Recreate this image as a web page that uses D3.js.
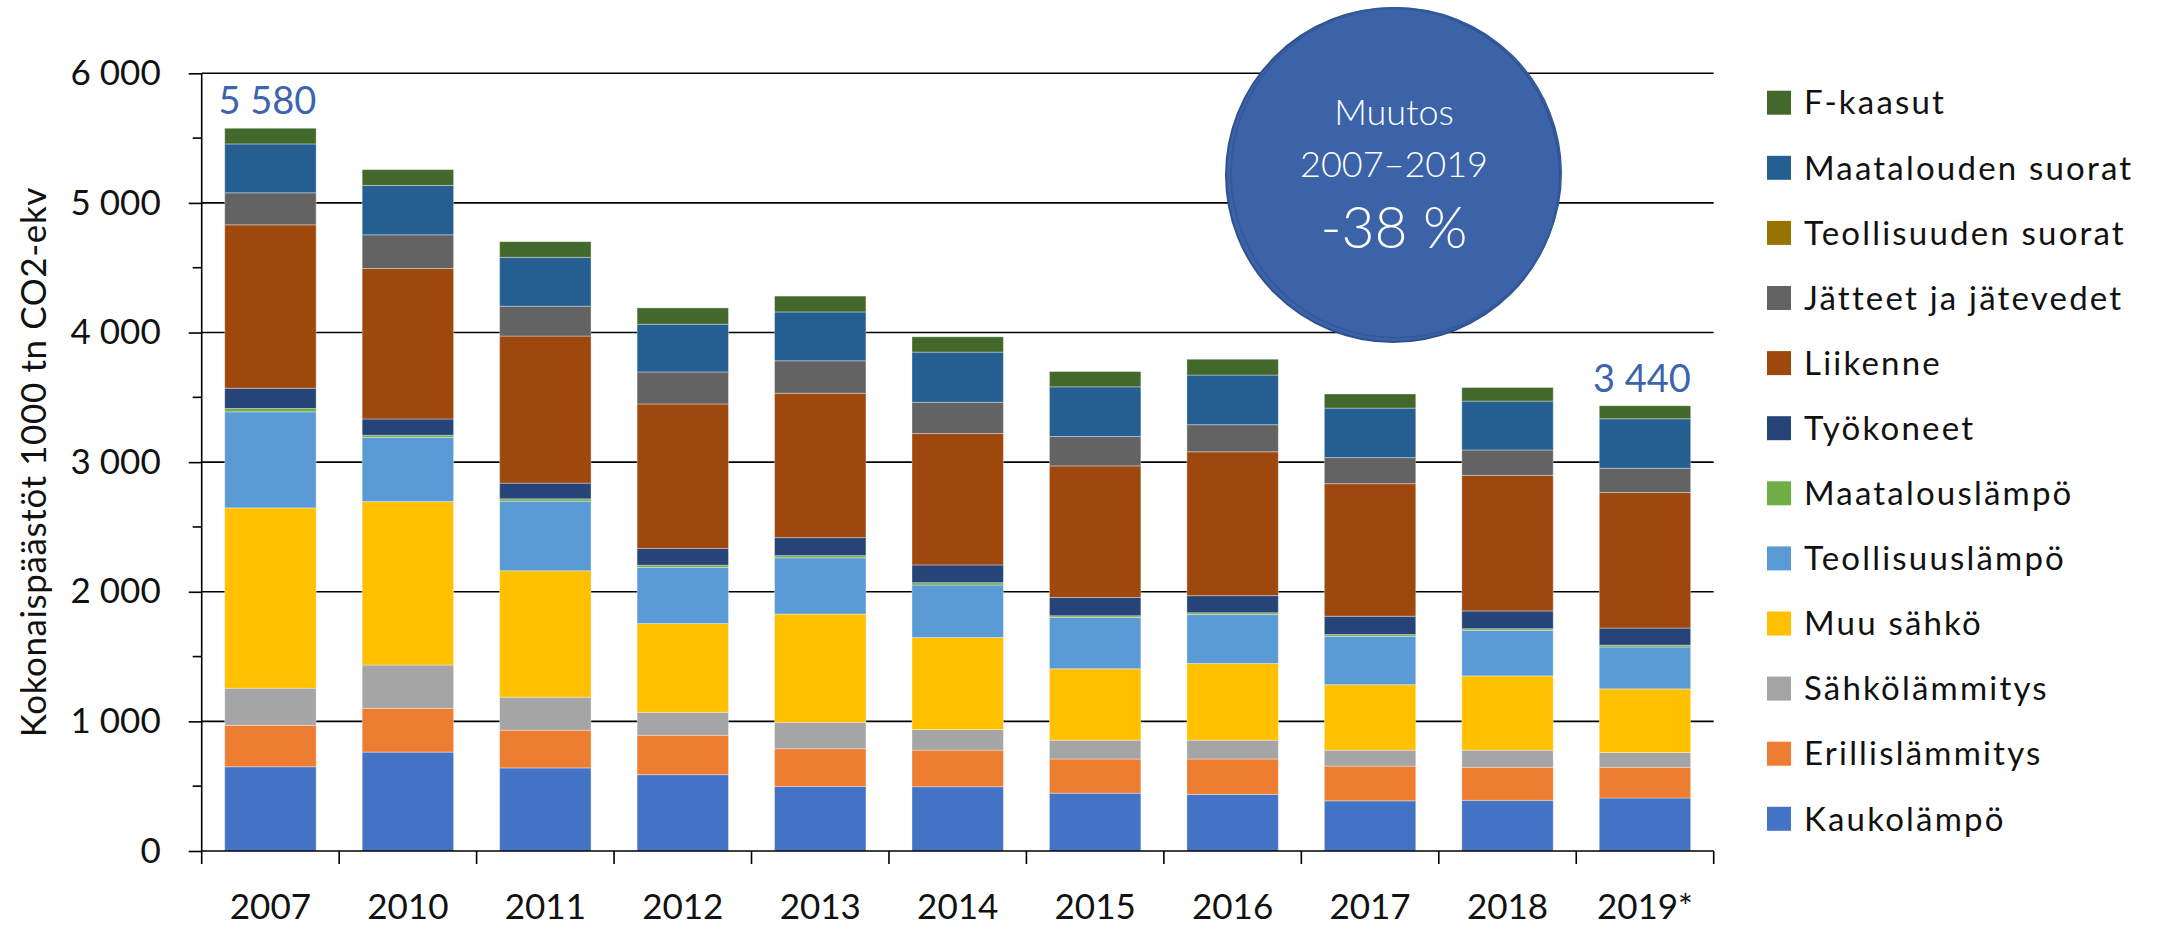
<!DOCTYPE html>
<html>
<head>
<meta charset="utf-8">
<script src="https://cdn.jsdelivr.net/npm/d3@7"></script>
<style>
  body { margin: 0; background: #fff; }
  svg { display: block; font-family: Lato, "Open Sans", sans-serif; font-weight: 400; }
</style>
</head>
<body>
<div id="chart"></div>
<script>
// categories and series (1000 t CO2-ekv), bottom of the stack first
var years = ["2007", "2010", "2011", "2012", "2013", "2014", "2015", "2016", "2017", "2018", "2019*"];
var kaukolampo       = [650, 763, 641, 589, 498, 496, 446, 437, 387, 391, 409];
var erillislammitys  = [320, 338, 291, 304, 291, 282, 264, 273, 268, 255, 237];
var sahkolammitys    = [286, 334, 255, 177, 203, 159, 145, 145, 123, 132, 114];
var muuSahko         = [1391, 1261, 975, 685, 836, 710, 551, 592, 505, 573, 491];
var teollisuuslampo  = [741, 494, 537, 433, 434, 405, 396, 377, 373, 351, 323];
var maatalouslampo   = [26, 17, 18, 17, 17, 18, 13, 14, 14, 13, 14];
var tyokoneet        = [156, 126, 121, 130, 139, 137, 141, 132, 141, 137, 132];
var liikenne         = [1261, 1161, 1135, 1114, 1113, 1014, 1015, 1110, 1023, 1046, 1046];
var jatteet          = [247, 260, 230, 247, 251, 241, 227, 209, 201, 196, 187];
var teollisuudenSuorat = [0, 0, 0, 0, 0, 0, 0, 0, 0, 0, 0];
var maataloudenSuorat  = [377, 381, 377, 368, 377, 387, 383, 383, 382, 377, 382];
var fKaasut          = [121, 122, 121, 126, 122, 118, 118, 122, 109, 105, 100];

var seriesNames = ["Kaukolämpö", "Erillislämmitys", "Sähkölämmitys", "Muu sähkö", "Teollisuuslämpö",
    "Maatalouslämpö", "Työkoneet", "Liikenne", "Jätteet ja jätevedet", "Teollisuuden suorat",
    "Maatalouden suorat", "F-kaasut"];
var seriesValues = [kaukolampo, erillislammitys, sahkolammitys, muuSahko, teollisuuslampo,
    maatalouslampo, tyokoneet, liikenne, jatteet, teollisuudenSuorat, maataloudenSuorat, fKaasut];
var seriesColors = ["#4472C4", "#ED7D31", "#A5A5A5", "#FFC000", "#5B9BD5", "#70AD47",
    "#264478", "#9E480E", "#636363", "#997300", "#255E91", "#43682B"];

var yTicks = [0, 1000, 2000, 3000, 4000, 5000, 6000];
var labelledYears = ["2007", "2019*"];
var bubbleLines = ["Muutos", "2007–2019", "-38 %"];
var yTitle = "Kokonaispäästöt 1000 tn CO2-ekv";

// svg size and plot area
var svgWidth = 2178, svgHeight = 925;
var plot = {left: 201.7, right: 1713.7, top: 73.3, bottom: 851};

var svg = d3.select("#chart").append("svg")
    .attr("width", svgWidth)
    .attr("height", svgHeight);

// build table rows for the stack
var rows = years.map(function(y, i) {
    var r = {year: y};
    seriesNames.forEach(function(n, s) { r[n] = seriesValues[s][i]; });
    return r;
});
var stacked = d3.stack().keys(seriesNames)(rows);

var x = d3.scaleBand()
    .domain(years)
    .range([plot.left, plot.right])
    .paddingInner(0.335)
    .paddingOuter(0.1675);
var y = d3.scaleLinear().domain([0, 6000]).range([plot.bottom, plot.top]);
var color = d3.scaleOrdinal().domain(seriesNames).range(seriesColors);

var fi = d3.formatLocale({decimal: ",", thousands: " ", grouping: [3], currency: ["", " €"]});
var fmt = fi.format(",d");

// gridlines
svg.append("g")
    .selectAll("line")
    .data(yTicks.slice(1))
    .enter()
    .append("line")
        .attr("x1", plot.left)
        .attr("x2", plot.right)
        .attr("y1", function(d) { return y(d); })
        .attr("y2", function(d) { return y(d); })
        .attr("stroke", "#000")
        .attr("stroke-width", 1.6);

// bars
svg.append("g")
    .selectAll("g")
    .data(stacked)
    .enter()
    .append("g")
        .attr("fill", function(d) { return color(d.key); })
    .selectAll("rect")
    .data(function(d) { return d; })
    .enter()
    .append("rect")
        .attr("x", function(d) { return x(d.data.year); })
        .attr("width", x.bandwidth())
        .attr("y", function(d) { return y(d[1]); })
        .attr("height", function(d) { return y(d[0]) - y(d[1]); })
        .attr("stroke", "rgba(255,255,255,0.35)")
        .attr("stroke-width", 1);

// y axis
var yAxis = svg.append("g")
    .attr("transform", "translate(" + plot.left + ",0)")
    .call(d3.axisLeft(y).tickValues(yTicks).tickSize(13).tickPadding(28).tickFormat(fmt));
yAxis.selectAll("line, path").attr("stroke", "#000").attr("stroke-width", 1.6);
yAxis.select(".domain").attr("d", "M0," + plot.top + "V" + plot.bottom);
yAxis.selectAll("text")
    .attr("font-family", "Lato, sans-serif")
    .attr("font-size", "35px")
    .attr("fill", "#111");
// minor ticks
svg.append("g")
    .selectAll("line")
    .data([500, 1500, 2500, 3500, 4500, 5500])
    .enter()
    .append("line")
        .attr("x1", plot.left - 9)
        .attr("x2", plot.left)
        .attr("y1", function(d) { return y(d); })
        .attr("y2", function(d) { return y(d); })
        .attr("stroke", "#000")
        .attr("stroke-width", 1.6);

// x axis line and ticks between categories
var step = x.step();
var xg = svg.append("g");
xg.append("line")
    .attr("x1", plot.left).attr("x2", plot.right)
    .attr("y1", plot.bottom).attr("y2", plot.bottom)
    .attr("stroke", "#000").attr("stroke-width", 1.6);
xg.selectAll(".tk")
    .data(d3.range(years.length + 1))
    .enter()
    .append("line")
        .attr("x1", function(i) { return plot.left + i * step; })
        .attr("x2", function(i) { return plot.left + i * step; })
        .attr("y1", plot.bottom)
        .attr("y2", plot.bottom + 13)
        .attr("stroke", "#000").attr("stroke-width", 1.6);
xg.selectAll("text")
    .data(years)
    .enter()
    .append("text")
        .attr("x", function(d) { return x(d) + x.bandwidth() / 2; })
        .attr("y", 919)
        .attr("text-anchor", "middle")
        .attr("font-size", "35px")
        .attr("fill", "#111")
        .text(function(d) { return d; });

// y title
svg.append("text")
    .attr("transform", "translate(46," + (plot.top + plot.bottom) / 2 + ") rotate(-90)")
    .attr("text-anchor", "middle")
    .attr("font-size", "35px")
    .attr("letter-spacing", "0.6px")
    .attr("fill", "#111")
    .text(yTitle);

// totals above first and last bar
var totals = rows.map(function(r) {
    return d3.sum(seriesNames, function(n) { return r[n]; });
});
svg.append("g")
    .selectAll("text")
    .data(labelledYears)
    .enter()
    .append("text")
        .attr("x", function(d) { return x(d) + x.bandwidth() / 2 - 3; })
        .attr("y", function(d) { return y(totals[years.indexOf(d)]) - 14; })
        .attr("text-anchor", "middle")
        .attr("font-size", "38px")
        .attr("fill", "#3D64AD")
        .text(function(d) { return fmt(Math.round(totals[years.indexOf(d)] / 10) * 10); });

// change bubble
var bubble = svg.append("g").attr("transform", "translate(1393,175)");
bubble.append("circle")
    .attr("r", 167)
    .attr("fill", "#3C63A8")
    .attr("stroke", "#2F528F")
    .attr("stroke-width", 2);
bubble.append("circle")
    .attr("cx", 3).attr("cy", -2)
    .attr("r", 165)
    .attr("fill", "none")
    .attr("stroke", "#345A9C")
    .attr("stroke-width", 2);
bubble.selectAll("text")
    .data(bubbleLines)
    .enter()
    .append("text")
        .attr("x", 1)
        .attr("y", function(d, i) { return [-50, 2, 73][i]; })
        .attr("text-anchor", "middle")
        .attr("font-weight", 300)
        .attr("font-size", function(d, i) { return i === 2 ? "57px" : "36px"; })
        .attr("fill", "#fff")
        .text(function(d) { return d; });

// legend, top entry is the top of the stack
var legendData = seriesNames.slice().reverse();
var legend = svg.append("g")
    .selectAll("g")
    .data(legendData)
    .enter()
    .append("g")
        .attr("transform", function(d, i) { return "translate(1767," + (102.7 + i * 65.1) + ")"; });
legend.append("rect")
    .attr("y", -12).attr("width", 24).attr("height", 24)
    .attr("fill", function(d) { return color(d); });
legend.append("text")
    .attr("x", 37)
    .attr("y", 11.7)
    .attr("font-size", "33px")
    .attr("letter-spacing", "2.2px")
    .attr("fill", "#111")
    .text(function(d) { return d; });
</script>
</body>
</html>
